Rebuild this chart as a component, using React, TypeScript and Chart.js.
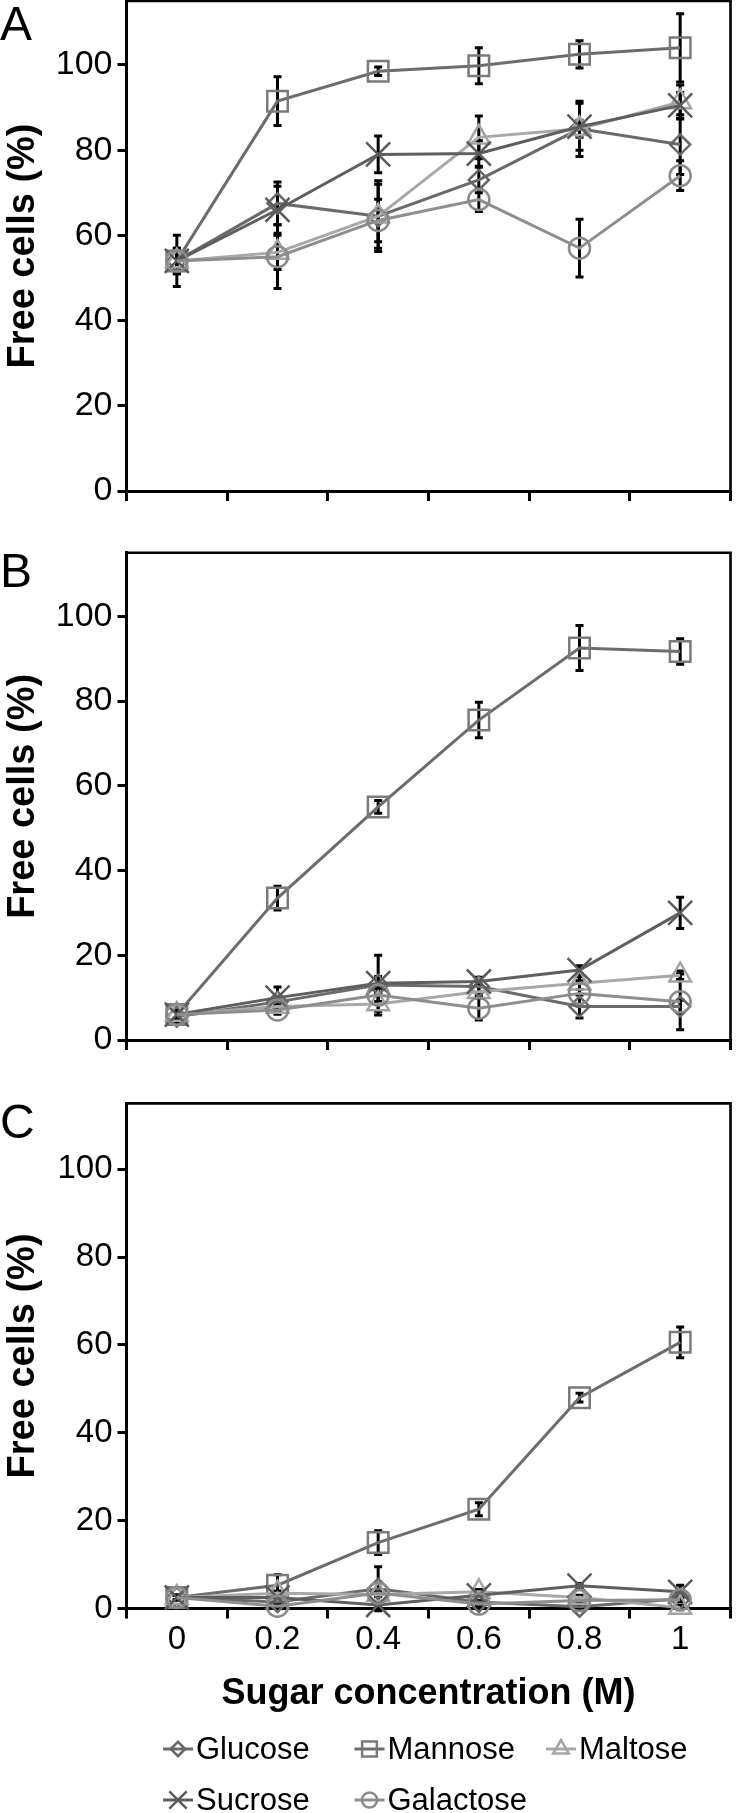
import React, { useEffect, useRef } from 'react';
import { Chart, registerables } from 'chart.js';
import { drawPoint } from 'chart.js/helpers';

Chart.register(...registerables);

// ---------------- data ----------------
const concentrations = ['0', '0.2', '0.4', '0.6', '0.8', '1'];
const sugarNames = ['Glucose', 'Mannose', 'Maltose', 'Sucrose', 'Galactose'];
const yTickValues = [0, 20, 40, 60, 80, 100];
const yMax = 115;

// Panel A
const glucoseA = [54, 67.5, 64.5, 73, 85, 81.3];
const mannoseA = [54, 91.5, 98.5, 99.8, 102.5, 104];
const maltoseA = [54, 56, 64.5, 83, 85, 91.3];
const sucroseA = [54, 66, 79, 79.2, 85.5, 90.5];
const galactoseA = [54, 55, 63.5, 68.4, 57, 74];
const glucoseErrA = [6, 5, 8.3, 3, 6.5, 7];
const mannoseErrA = [2, 5.7, 1, 4.2, 3.2, 8];
const maltoseErrA = [3, 4, 7.5, 5, 2, 4];
const sucroseErrA = [2, 5.5, 4.3, 3, 5.5, 3];
const galactoseErrA = [3, 7.5, 5, 2.8, 6.8, 3.5];

// Panel B
const glucoseB = [5.5, 9, 13, 12.6, 7.9, 7.9];
const mannoseB = [6, 33.5, 55, 75.5, 92.5, 91.7];
const maltoseB = [6, 7.9, 8.5, 11.4, 13.4, 15.3];
const sucroseB = [6, 10, 13.4, 13.8, 16.5, 30];
const galactoseB = [6, 7.1, 10.6, 7.5, 11, 9];
const glucoseErrB = [1.5, 1, 2, 1.5, 2.7, 1.5];
const mannoseErrB = [1, 2.8, 1.5, 4.2, 5.3, 3];
const maltoseErrB = [1, 1, 2.6, 1.5, 1.5, 1];
const sucroseErrB = [1, 2.5, 6.6, 1, 1, 3.7];
const galactoseErrB = [1, 1, 1.5, 2.8, 3, 6.6];

// Panel C
const glucoseC = [2.5, 1.5, 4.5, 1.5, 0.4, 2.2];
const mannoseC = [2.5, 5.3, 15, 22.6, 48, 60.6];
const maltoseC = [2.5, 3.5, 3.2, 3.8, 2.5, 0.2];
const sucroseC = [2.5, 2.5, 0.8, 3, 5.2, 3.8];
const galactoseC = [2.5, 0.5, 3.5, 1, 1.8, 2];
const glucoseErrC = [0.5, 0.5, 5, 0.5, 0.5, 0.5];
const mannoseErrC = [0.5, 2.4, 2.7, 1.5, 1, 3.5];
const maltoseErrC = [0.5, 0.5, 0.5, 0.5, 0.5, 0.5];
const sucroseErrC = [0.5, 0.5, 0.5, 0.5, 0.5, 1.5];
const galactoseErrC = [0.5, 0.5, 0.5, 0.5, 0.5, 0.5];

// ---------------- styles ----------------
const FONT = '"Liberation Sans", Arial, Helvetica, sans-serif';
const lineColors = ['#6a6a6a', '#6c6c6c', '#a8a8a8', '#5e5e5e', '#8e8e8e'];
const markerColors = ['#666666', '#7a7a7a', '#a4a4a4', '#5a5a5a', '#8a8a8a'];
const pointStyles = ['rectRot', 'rect', 'triangle', 'crossRot', 'circle'];
const pointRadii = [10, 14.5, 12.5, 17, 10.5];

const errorBarPlugin = {
  id: 'errorBars',
  beforeDatasetsDraw(chart: any) {
    const ctx = chart.ctx;
    const yScale = chart.scales.y;
    ctx.save();
    ctx.strokeStyle = '#000';
    ctx.lineWidth = 3;
    chart.data.datasets.forEach((ds: any, i: number) => {
      const meta = chart.getDatasetMeta(i);
      meta.data.forEach((pt: any, j: number) => {
        const e = ds.errors ? ds.errors[j] : 0;
        if (!e) return;
        const v = ds.data[j];
        const x = pt.x;
        const yT = yScale.getPixelForValue(v + e);
        const yB = yScale.getPixelForValue(v - e);
        ctx.beginPath();
        ctx.moveTo(x, yT);
        ctx.lineTo(x, yB);
        ctx.moveTo(x - 4, yT);
        ctx.lineTo(x + 4, yT);
        ctx.moveTo(x - 4, yB);
        ctx.lineTo(x + 4, yB);
        ctx.stroke();
      });
    });
    ctx.restore();
  },
};

const framePlugin = {
  id: 'frame',
  afterDraw(chart: any) {
    const { ctx, chartArea } = chart;
    ctx.save();
    ctx.strokeStyle = '#000';
    ctx.lineWidth = 2.6;
    ctx.beginPath();
    ctx.moveTo(chartArea.left, chartArea.top);
    ctx.lineTo(chartArea.right, chartArea.top);
    ctx.lineTo(chartArea.right, chartArea.bottom);
    ctx.stroke();
    ctx.restore();
  },
};

const panelLetterPlugin = {
  id: 'panelLetter',
  afterDraw(chart: any, _args: any, opts: any) {
    if (!opts || !opts.text) return;
    const ctx = chart.ctx;
    ctx.save();
    ctx.fillStyle = '#000';
    ctx.font = `${opts.size || 44}px ${FONT}`;
    ctx.textBaseline = 'alphabetic';
    ctx.textAlign = 'left';
    ctx.fillText(opts.text, opts.x || 0, opts.y || 0);
    ctx.restore();
  },
};

const seriesLegendPlugin = {
  id: 'seriesLegend',
  afterDraw(chart: any, _args: any, opts: any) {
    if (!opts || !opts.show) return;
    const ctx = chart.ctx;
    const rows = opts.rowY as number[];
    ctx.save();
    chart.data.datasets.forEach((ds: any, i: number) => {
      const row = i < 3 ? 0 : 1;
      const col = i < 3 ? i : i - 3;
      const x0 = opts.startX + col * opts.colWidth;
      const y = rows[row];
      ctx.strokeStyle = ds.borderColor;
      ctx.lineWidth = 3;
      ctx.beginPath();
      ctx.moveTo(x0, y);
      ctx.lineTo(x0 + 30, y);
      ctx.stroke();
      ctx.strokeStyle = ds.pointBorderColor;
      ctx.fillStyle = 'rgba(0,0,0,0)';
      ctx.lineWidth = 2.5;
      drawPoint(ctx, { pointStyle: ds.pointStyle, radius: ds.pointRadius * 0.72, rotation: 0, borderWidth: 2.5 } as any, x0 + 15, y);
      ctx.fillStyle = '#000';
      ctx.font = `31px ${FONT}`;
      ctx.textBaseline = 'middle';
      ctx.textAlign = 'left';
      ctx.fillText(ds.label, x0 + 33, y + 1);
    });
    ctx.restore();
  },
};

type PanelProps = {
  letter: string;
  letterBaseline: number;
  values: number[][];
  errors: number[][];
  top: number;
  height: number;
  padTop: number;
  padBottom: number;
  xScaleHeight: number;
  yTickSize: number;
  bottomPanel: boolean;
};

function SugarPanel(p: PanelProps) {
  const ref = useRef<HTMLCanvasElement | null>(null);
  useEffect(() => {
    if (!ref.current) return;
    Chart.defaults.font.family = FONT;
    const datasets = sugarNames.map((name, i) => ({
      label: name,
      data: p.values[i],
      errors: p.errors[i],
      borderColor: lineColors[i],
      backgroundColor: 'rgba(0,0,0,0)',
      borderWidth: 3,
      pointStyle: pointStyles[i],
      pointRadius: pointRadii[i],
      pointBorderColor: markerColors[i],
      pointBackgroundColor: 'rgba(0,0,0,0)',
      pointBorderWidth: 2.5,
      tension: 0,
      clip: false,
      order: sugarNames.length - i,
    }));
    const chart = new Chart(ref.current, {
      type: 'line',
      data: { labels: concentrations, datasets: datasets as any },
      options: {
        responsive: false,
        animation: false,
        events: [],
        layout: { padding: { top: p.padTop, bottom: p.padBottom, left: 0, right: 2.5 } },
        plugins: {
          legend: { display: false },
          tooltip: { enabled: false },
          panelLetter: { text: p.letter, y: p.letterBaseline, size: 48 },
          seriesLegend: { show: p.bottomPanel, startX: 163, colWidth: 191.5, rowY: [689, 740] },
        } as any,
        scales: {
          x: {
            type: 'category',
            offset: true,
            grid: { display: true, offset: true, drawOnChartArea: false, drawTicks: true, tickLength: 10, color: '#000', lineWidth: 3 },
            border: { display: true, color: '#000', width: 3 },
            ticks: { display: p.bottomPanel, color: '#000', font: { size: 33, family: FONT }, padding: 2, maxRotation: 0, autoSkip: false },
            title: {
              display: p.bottomPanel,
              text: 'Sugar concentration (M)',
              color: '#000',
              font: { size: 36, weight: 'bold', family: FONT },
              padding: { top: 0, bottom: 4 },
            },
            afterFit: (scale: any) => {
              scale.height = p.xScaleHeight;
              scale.paddingLeft = 0;
              scale.paddingRight = 0;
            },
          },
          y: {
            type: 'linear',
            min: 0,
            max: yMax,
            grid: { display: true, drawOnChartArea: false, drawTicks: true, tickLength: 9, color: '#000', lineWidth: 3 },
            border: { display: true, color: '#000', width: 3 },
            ticks: { color: '#000', font: { size: p.yTickSize, family: FONT }, padding: 5 },
            afterBuildTicks: (scale: any) => {
              scale.ticks = yTickValues.map((v) => ({ value: v }));
            },
            title: {
              display: true,
              text: 'Free cells (%)',
              color: '#000',
              font: { size: 38, weight: 'bold', family: FONT },
              padding: { top: 1, bottom: 0 },
            },
            afterFit: (scale: any) => {
              scale.width = 126.5;
              scale.paddingTop = 0;
              scale.paddingBottom = 0;
            },
          },
        },
      } as any,
      plugins: [errorBarPlugin, framePlugin, panelLetterPlugin, seriesLegendPlugin],
    });
    return () => chart.destroy();
  }, []);
  return (
    <div style={{ position: 'absolute', left: 0, top: p.top, width: 750, height: p.height }}>
      <canvas ref={ref} width={750} height={p.height} style={{ display: 'block' }} />
    </div>
  );
}

export default function App() {
  return (
    <div style={{ position: 'absolute', left: 0, top: 0, width: 750, height: 1813, background: '#fff', overflow: 'hidden' }}>
      <SugarPanel
        letter="A"
        letterBaseline={70}
        values={[glucoseA, mannoseA, maltoseA, sucroseA, galactoseA]}
        errors={[glucoseErrA, mannoseErrA, maltoseErrA, sucroseErrA, galactoseErrA]}
        top={-30}
        height={550}
        padTop={31}
        padBottom={19}
        xScaleHeight={10}
        yTickSize={34}
        bottomPanel={false}
      />
      <SugarPanel
        letter="B"
        letterBaseline={67}
        values={[glucoseB, mannoseB, maltoseB, sucroseB, galactoseB]}
        errors={[glucoseErrB, mannoseErrB, maltoseErrB, sucroseErrB, galactoseErrB]}
        top={520}
        height={540}
        padTop={32.7}
        padBottom={10}
        xScaleHeight={10}
        yTickSize={34}
        bottomPanel={false}
      />
      <SugarPanel
        letter="C"
        letterBaseline={78}
        values={[glucoseC, mannoseC, maltoseC, sucroseC, galactoseC]}
        errors={[glucoseErrC, mannoseErrC, maltoseErrC, sucroseErrC, galactoseErrC]}
        top={1060}
        height={753}
        padTop={43.4}
        padBottom={93.5}
        xScaleHeight={111}
        yTickSize={33}
        bottomPanel={true}
      />
    </div>
  );
}
